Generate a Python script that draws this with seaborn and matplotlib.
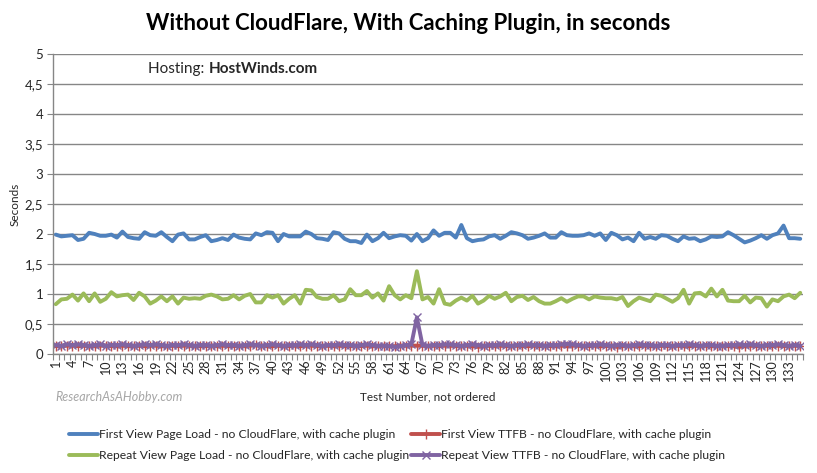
import numpy as np
import pandas as pd
import seaborn as sns
import matplotlib.pyplot as plt
from matplotlib.ticker import FuncFormatter, MultipleLocator

# data
test_number = list(range(1, 136))

first_view_load = [
    1.99, 1.96, 1.97, 1.98, 1.90, 1.92, 2.02, 2.00, 1.97, 1.97, 1.99, 1.94, 2.04, 1.95, 1.93,
    1.92, 2.03, 1.98, 1.97, 2.03, 1.95, 1.88, 1.99, 2.01, 1.91, 1.91, 1.95, 1.98, 1.88, 1.90,
    1.93, 1.90, 1.99, 1.94, 1.92, 1.91, 2.01, 1.98, 2.03, 2.02, 1.88, 2.00, 1.96, 1.96, 1.96,
    2.04, 2.00, 1.93, 1.92, 1.90, 2.03, 2.01, 1.92, 1.88, 1.88, 1.85, 1.99, 1.88, 1.93, 2.02,
    1.93, 1.96, 1.98, 1.97, 1.89, 2.00, 1.88, 1.93, 2.06, 1.97, 2.02, 2.02, 1.94, 2.15, 1.93,
    1.88, 1.90, 1.91, 1.96, 1.98, 1.92, 1.97, 2.03, 2.01, 1.98, 1.92, 1.94, 1.97, 2.01, 1.94,
    1.94, 2.03, 1.98, 1.97, 1.97, 1.98, 2.01, 1.97, 2.01, 1.90, 2.02, 1.98, 1.91, 1.94, 1.88,
    2.02, 1.92, 1.95, 1.92, 1.98, 1.97, 1.92, 1.88, 1.96, 1.92, 1.93, 1.88, 1.91, 1.96, 1.95,
    1.96, 2.03, 1.98, 1.92, 1.86, 1.89, 1.93, 1.98, 1.92, 1.98, 2.01, 2.14, 1.93, 1.93, 1.92,
]

repeat_view_load = [
    0.83, 0.91, 0.92, 0.99, 0.89, 1.01, 0.88, 1.01, 0.87, 0.92, 1.03, 0.96, 0.98, 0.99, 0.90,
    1.02, 0.96, 0.84, 0.89, 0.96, 0.88, 0.96, 0.84, 0.94, 0.92, 0.93, 0.92, 0.97, 0.99, 0.96,
    0.91, 0.92, 0.98, 0.91, 0.97, 1.00, 0.86, 0.86, 0.98, 0.94, 0.98, 0.84, 0.92, 0.98, 0.84,
    1.07, 1.06, 0.95, 0.92, 0.92, 0.98, 0.88, 0.91, 1.08, 0.98, 0.98, 1.05, 0.94, 1.01, 0.89,
    1.13, 0.98, 0.91, 0.98, 0.93, 1.38, 0.91, 0.95, 0.84, 1.08, 0.84, 0.82, 0.89, 0.94, 0.89,
    0.97, 0.84, 0.89, 0.97, 0.92, 0.96, 1.02, 0.88, 0.95, 0.97, 0.90, 0.95, 0.88, 0.84, 0.84,
    0.88, 0.93, 0.87, 0.92, 0.96, 0.96, 0.91, 0.96, 0.94, 0.93, 0.93, 0.91, 0.95, 0.80, 0.88,
    0.94, 0.91, 0.88, 0.99, 0.97, 0.92, 0.87, 0.93, 1.07, 0.84, 1.01, 1.02, 0.96, 1.09, 0.96,
    1.07, 0.89, 0.88, 0.88, 0.97, 0.86, 0.94, 0.93, 0.79, 0.91, 0.88, 0.96, 0.99, 0.93, 1.02,
]

first_view_ttfb = [
    0.13, 0.13, 0.14, 0.14, 0.13, 0.14, 0.13, 0.13, 0.14, 0.14, 0.13, 0.13, 0.14, 0.13, 0.13,
    0.14, 0.13, 0.14, 0.14, 0.13, 0.13, 0.14, 0.13, 0.14, 0.14, 0.13, 0.13, 0.13, 0.14, 0.13,
    0.14, 0.13, 0.13, 0.14, 0.13, 0.14, 0.15, 0.14, 0.13, 0.13, 0.14, 0.13, 0.13, 0.14, 0.13,
    0.14, 0.14, 0.13, 0.13, 0.14, 0.13, 0.14, 0.13, 0.13, 0.14, 0.13, 0.14, 0.13, 0.13, 0.14,
    0.13, 0.13, 0.14, 0.14, 0.14, 0.14, 0.14, 0.13, 0.14, 0.13, 0.14, 0.14, 0.13, 0.13, 0.14,
    0.13, 0.12, 0.13, 0.14, 0.13, 0.14, 0.13, 0.13, 0.14, 0.13, 0.13, 0.14, 0.13, 0.14, 0.13,
    0.13, 0.14, 0.13, 0.14, 0.14, 0.13, 0.13, 0.14, 0.13, 0.13, 0.14, 0.12, 0.13, 0.14, 0.13,
    0.13, 0.14, 0.13, 0.13, 0.14, 0.13, 0.13, 0.14, 0.13, 0.13, 0.14, 0.13, 0.14, 0.13, 0.13,
    0.14, 0.13, 0.13, 0.12, 0.13, 0.14, 0.13, 0.13, 0.14, 0.13, 0.14, 0.13, 0.13, 0.14, 0.14,
]

repeat_view_ttfb = [
    0.15, 0.14, 0.16, 0.15, 0.16, 0.15, 0.14, 0.15, 0.16, 0.14, 0.15, 0.15, 0.16, 0.15, 0.14,
    0.15, 0.16, 0.15, 0.16, 0.15, 0.14, 0.15, 0.15, 0.16, 0.15, 0.14, 0.15, 0.15, 0.14, 0.15,
    0.16, 0.15, 0.15, 0.14, 0.15, 0.16, 0.15, 0.14, 0.15, 0.16, 0.15, 0.14, 0.15, 0.15, 0.16,
    0.15, 0.16, 0.15, 0.14, 0.15, 0.15, 0.16, 0.15, 0.15, 0.14, 0.15, 0.16, 0.15, 0.14, 0.14,
    0.13, 0.12, 0.13, 0.15, 0.16, 0.61, 0.15, 0.14, 0.15, 0.15, 0.16, 0.16, 0.15, 0.14, 0.15,
    0.16, 0.15, 0.14, 0.15, 0.15, 0.16, 0.15, 0.14, 0.15, 0.15, 0.16, 0.15, 0.15, 0.14, 0.15,
    0.15, 0.16, 0.17, 0.16, 0.15, 0.14, 0.15, 0.15, 0.16, 0.15, 0.14, 0.15, 0.15, 0.14, 0.15,
    0.16, 0.15, 0.15, 0.14, 0.15, 0.15, 0.14, 0.15, 0.15, 0.16, 0.15, 0.14, 0.15, 0.15, 0.14,
    0.14, 0.15, 0.15, 0.16, 0.15, 0.16, 0.15, 0.14, 0.15, 0.15, 0.16, 0.15, 0.14, 0.15, 0.14,
]

series_labels = [
    'First View Page Load - no CloudFlare, with cache plugin',
    'First View TTFB - no CloudFlare, with cache plugin',
    'Repeat View Page Load - no CloudFlare, with cache plugin',
    'Repeat View TTFB - no CloudFlare, with cache plugin',
]

sns.set_theme(style="white")
plt.rcParams['font.family'] = ['Lato', 'DejaVu Sans']

fig = plt.figure(figsize=(8.17, 4.73), dpi=100)
ax = fig.add_axes([53 / 817, 1 - 354 / 473, 750 / 817, 300 / 473])

grid_color = '#868686'

# lines
sns.lineplot(x=test_number, y=first_view_load, ax=ax, color='#4F81BD', linewidth=2.8,
             label=series_labels[0])
sns.lineplot(x=test_number, y=first_view_ttfb, ax=ax, color='#C0504D', linewidth=2.8,
             marker='+', markersize=7, mec='#C0504D', mew=1.0, label=series_labels[1])
sns.lineplot(x=test_number, y=repeat_view_load, ax=ax, color='#9BBB59', linewidth=2.8,
             label=series_labels[2])
sns.lineplot(x=test_number, y=repeat_view_ttfb, ax=ax, color='#8064A2', linewidth=2.8,
             marker='x', markersize=6, mec='#8064A2', mew=1.0, label=series_labels[3])

ax.set_xlim(0.5, 135.5)
ax.set_ylim(0, 5)

# axis ticks
ax.yaxis.set_major_locator(MultipleLocator(0.5))
ax.yaxis.set_major_formatter(FuncFormatter(lambda v, p: ('%g' % v).replace('.', ',')))
ax.set_xticks(test_number[::3])
ax.set_xticklabels([str(n) for n in test_number[::3]], rotation=90)
ax.set_xticks(np.arange(0.5, 136, 1), minor=True)
ax.tick_params(axis='x', which='major', length=0, pad=4, labelsize=9)
ax.tick_params(axis='x', which='minor', length=4, width=0.8, color=grid_color, direction='out')
ax.tick_params(axis='y', which='major', length=4, width=0.8, color=grid_color,
               direction='out', labelsize=9.5, pad=3)
ax.xaxis.set_ticks_position('bottom')
ax.yaxis.set_ticks_position('left')

ax.grid(axis='y', color=grid_color, linewidth=1.0)
ax.set_axisbelow(True)
for side in ['top', 'right']:
    ax.spines[side].set_visible(False)
for side in ['left', 'bottom']:
    ax.spines[side].set_color(grid_color)
    ax.spines[side].set_linewidth(1.0)

# titles and labels
fig.text(0.5, 1 - 23 / 473, 'Without CloudFlare, With Caching Plugin, in seconds',
         ha='center', va='center', fontsize=16, fontweight='bold', color='black')
ax.set_ylabel('Seconds', fontsize=8.5)
ax.yaxis.set_label_coords(-32 / 750, 0.5)
fig.text(428 / 817, 1 - 397 / 473, 'Test Number, not ordered', ha='center', va='center',
         fontsize=8.5)
fig.text(55 / 817, 1 - 397 / 473, 'ResearchAsAHobby.com', ha='left', va='center',
         fontsize=9, color='#a6a6a6', style='italic')

host = fig.text(148 / 817, 1 - 69 / 473, 'Hosting: ', ha='left', va='center',
                fontsize=11, color='#262626')
ax.annotate('HostWinds.com', xy=(1, 0), xycoords=host, va='bottom', ha='left',
            fontsize=11, fontweight='bold', color='#262626')

# legend at bottom, two columns
handles, labels = ax.get_legend_handles_labels()
ax.get_legend().remove()
order = [0, 2, 1, 3]
fig.legend([handles[i] for i in order], [labels[i] for i in order],
           loc='center left', bbox_to_anchor=(58 / 817, 1 - 445 / 473), ncol=2,
           frameon=False, fontsize=8.7, handlelength=2.4, handletextpad=0.1,
           columnspacing=0.15, labelspacing=0.85, numpoints=1)

fig.savefig('out.png', dpi=100)
